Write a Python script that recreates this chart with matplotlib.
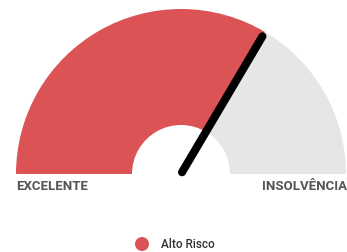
import matplotlib.pyplot as plt
from matplotlib.patches import Wedge, Circle
import numpy as np

# gauge data
score = 67.0          # percent of the dial filled
score_max = 100.0
band_labels = ['EXCELENTE', 'INSOLVÊNCIA']
legend_label = 'Alto Risco'
fill_color = '#DC5356'
rest_color = '#E6E6E6'

plt.rcParams['font.family'] = ['Roboto', 'DejaVu Sans']

fig = plt.figure(figsize=(3.47, 2.52), dpi=100)
ax = fig.add_axes([0, 0, 1, 1])
ax.set_xlim(0, 347)
ax.set_ylim(0, 252)
ax.set_aspect('equal')
ax.axis('off')

cx, cy = 181, 78
r_out, r_in = 165, 49
split = 180 - 180 * score / score_max

ax.add_patch(Wedge((cx, cy), r_out, split, 180, width=r_out - r_in, color=fill_color, lw=0))
ax.add_patch(Wedge((cx, cy), r_out, 0, split, width=r_out - r_in, color=rest_color, lw=0))

# needle
a = np.deg2rad(split)
ax.plot([cx + 2 * np.cos(a), cx + 160 * np.cos(a)],
        [cy + 2 * np.sin(a), cy + 160 * np.sin(a)],
        color='black', lw=5.8, solid_capstyle='round')

ax.text(16, 65, band_labels[0], ha='left', va='center', fontsize=9.5, fontweight='bold', color='#555555')
ax.text(347, 65, band_labels[1], ha='right', va='center', fontsize=9.5, fontweight='bold', color='#555555')

# legend
ax.add_patch(Circle((142, 8), 7, color=fill_color, lw=0))
ax.text(161, 8, legend_label, ha='left', va='center', fontsize=8.5, fontweight='medium', color='#333333')

fig.savefig('out.png', dpi=100)
